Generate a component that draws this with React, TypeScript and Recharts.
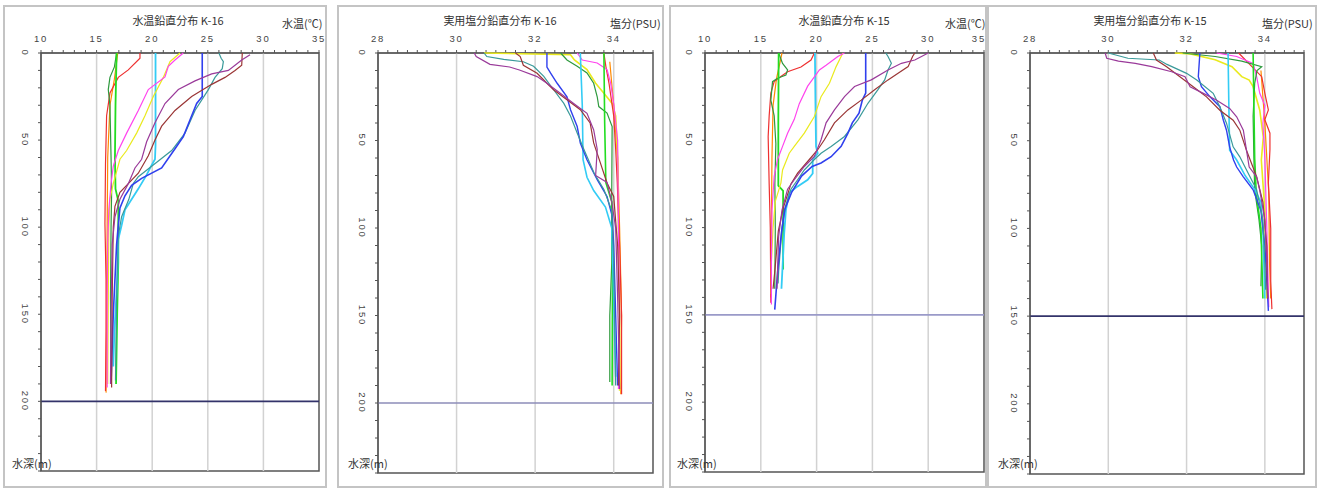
import { ReferenceArea, ReferenceLine, Scatter, ScatterChart, XAxis, YAxis } from "recharts";

type Pt = [number, number]; // [value, depth m]

// ---- K-16 water temperature (°C) ----
const k16TempRed: Pt[] = [[18.9, 0], [18.9, 3], [17.85, 9.7], [16.95, 14], [16.2, 23], [15.9, 36], [15.8, 64], [15.75, 98], [15.85, 130], [15.85, 160], [15.8, 194]];
const k16TempLime: Pt[] = [[16.8, 0], [16.7, 30], [16.65, 60], [16.7, 78], [16.95, 85], [16.95, 120], [16.85, 150], [16.75, 190]];
const k16TempDarkGreen: Pt[] = [[16.8, 0], [16.6, 8], [16.2, 14], [16.05, 21], [16.2, 30], [16.25, 45], [16.3, 60], [16.35, 80], [16.3, 100], [16.25, 140], [16.3, 190]];
const k16TempCyan: Pt[] = [[20.3, 0], [20.3, 30], [20.3, 53], [20.25, 61], [19.9, 65], [19.5, 70], [18.75, 78], [17.55, 90], [17.25, 99], [16.95, 107], [16.85, 131], [16.6, 160], [16.5, 180]];
const k16TempMagenta: Pt[] = [[22.8, 0], [22.05, 4], [21.45, 7.6], [21.15, 13.7], [19.65, 21], [18.75, 33], [17.7, 46], [16.95, 56], [16.5, 65], [16.3, 75], [16.1, 90], [16.0, 110], [15.95, 140], [15.95, 192]];
const k16TempYellow: Pt[] = [[22.5, 0], [21.6, 5], [21.0, 14], [20.1, 25], [19.35, 36], [18.6, 46], [17.7, 56], [17.1, 61], [16.5, 75], [16.2, 84], [16.1, 100], [16.05, 140], [16.0, 190]];
const k16TempBlue: Pt[] = [[24.5, 0], [24.5, 25], [24.0, 29], [23.55, 36], [22.8, 48], [22.05, 55], [20.85, 66], [19.05, 72], [18.15, 76], [17.55, 82], [17.1, 89], [16.95, 99], [16.8, 110], [16.5, 150], [16.3, 189]];
const k16TempTeal: Pt[] = [[26.0, 0], [26.2, 3], [26.4, 5], [26.3, 9], [25.65, 14], [25.05, 21], [23.85, 33], [22.95, 46], [21.75, 56], [19.95, 65], [18.75, 71], [18.3, 75], [17.9, 84], [17.25, 94], [16.95, 105], [16.8, 140], [16.7, 188]];
const k16TempPurple: Pt[] = [[28.8, 1], [28.05, 4], [26.85, 10], [25.35, 12], [23.85, 16], [22.35, 21], [21.15, 29], [20.25, 40], [19.5, 51], [19.05, 61], [18.45, 66], [17.85, 75], [17.1, 84], [16.65, 94], [16.4, 110], [16.3, 150], [16.25, 190]];
const k16TempMaroon: Pt[] = [[28.1, 0], [28.05, 7], [27.45, 10], [26.55, 14], [25.35, 18], [23.55, 25], [22.05, 33], [20.85, 42], [20.25, 50], [19.65, 59], [18.75, 69], [17.85, 75], [17.1, 80], [16.65, 88], [16.5, 100], [16.4, 140], [16.35, 192]];
const k16TempOrange: Pt[] = [[16.9, 0], [16.6, 15], [16.2, 30], [16.0, 60], [15.95, 100], [15.9, 150], [15.85, 195]];

// ---- K-16 practical salinity (PSU) ----
const k16SalPurple: Pt[] = [[30.45, 0], [30.5, 2], [30.85, 6.5], [31.35, 8], [31.6, 9.7], [32.05, 13.5], [32.3, 17.3], [32.64, 23], [32.98, 28.8], [33.32, 34.5], [33.49, 44], [33.58, 55], [33.54, 70], [33.83, 74], [33.95, 85], [34.05, 100], [34.1, 140], [34.15, 192]];
const k16SalTeal: Pt[] = [[30.7, 0], [30.77, 2], [31.2, 3.6], [31.7, 5], [31.96, 7.6], [32.22, 13.3], [32.47, 21], [32.73, 28.8], [32.9, 36], [33.07, 45.7], [33.24, 55], [33.5, 68.6], [33.75, 78], [33.95, 90], [34.0, 120], [34.05, 190]];
const k16SalMaroon: Pt[] = [[31.5, 0], [31.62, 2], [31.7, 7], [32.05, 11.6], [32.3, 17.3], [32.47, 21], [32.81, 26.7], [33.15, 32.4], [33.4, 40], [33.49, 51.4], [33.66, 62.8], [33.83, 74.3], [34.0, 82], [34.1, 110], [34.15, 150], [34.12, 190]];
const k16SalBlue: Pt[] = [[32.3, 0], [32.3, 8], [32.39, 11.4], [32.56, 17.3], [32.81, 25], [32.9, 32.4], [33.07, 42], [33.15, 51.4], [33.32, 61], [33.58, 72.4], [33.83, 82], [33.96, 93], [34.0, 110], [34.05, 150], [34.1, 190]];
const k16SalCyan: Pt[] = [[33.15, 0], [33.2, 30], [33.22, 61], [33.32, 71], [33.49, 78.6], [33.79, 88], [33.95, 100], [34.0, 140], [34.05, 185]];
const k16SalGreen: Pt[] = [[32.65, 0], [32.81, 4], [33.07, 7.6], [33.32, 11.4], [33.49, 17.3], [33.58, 25], [33.62, 30.6], [33.83, 34.3], [33.96, 42], [33.95, 80], [33.95, 120], [33.9, 150], [33.9, 188]];
const k16SalYellow: Pt[] = [[30.7, 0], [32.9, 1], [33.0, 4], [33.32, 9.5], [33.54, 17.3], [33.75, 23], [33.96, 28.8], [34.05, 36], [34.1, 60], [34.12, 100], [34.15, 150], [34.15, 193]];
const k16SalLime: Pt[] = [[33.75, 0], [33.77, 40], [33.8, 74], [33.95, 85], [33.97, 120], [33.96, 190]];
const k16SalMagenta: Pt[] = [[33.07, 0], [33.2, 4], [33.58, 5.7], [33.83, 9.5], [33.92, 17], [34.0, 29], [34.1, 50], [34.12, 100], [34.15, 150], [34.12, 192]];
const k16SalRed: Pt[] = [[33.75, 0], [33.8, 7.6], [33.88, 17.3], [34.0, 36], [34.05, 55], [34.09, 74], [34.15, 110], [34.2, 150], [34.2, 195]];
const k16SalOrange: Pt[] = [[33.9, 5], [34.0, 30], [34.1, 60], [34.15, 100], [34.2, 150], [34.18, 195]];

// ---- K-15 water temperature (°C) ----
const k15TempLime: Pt[] = [[16.6, 0], [16.57, 40], [16.57, 76], [17.0, 79], [17.0, 100], [17.0, 124]];
const k15TempDarkGreen: Pt[] = [[16.6, 0], [16.95, 6], [17.4, 9.7], [17.25, 12.6], [16.5, 14.5], [16.05, 16.4], [15.9, 27], [16.2, 36], [16.35, 52], [16.26, 75], [16.3, 100], [16.25, 135]];
const k15TempRed: Pt[] = [[19.8, 0], [19.5, 4], [18.6, 8], [17.4, 10.7], [16.8, 13.5], [16.2, 16.4], [15.9, 23], [15.75, 36], [15.66, 48], [15.75, 75], [15.85, 100], [15.9, 143]];
const k15TempCyan: Pt[] = [[19.85, 0], [19.9, 30], [19.95, 53.5], [20.1, 57.4], [19.65, 61], [19.65, 69], [19.2, 72.6], [18.3, 76.4], [17.55, 80], [17.25, 90], [17.1, 103], [16.85, 135]];
const k15TempMagenta: Pt[] = [[22.5, 0], [21.9, 2], [20.85, 7], [20.25, 9.7], [19.2, 19], [18.45, 29], [18.0, 38], [17.4, 46], [16.95, 53.5], [16.5, 61], [16.2, 70.6], [16.0, 90], [15.95, 120], [15.95, 144]];
const k15TempYellow: Pt[] = [[22.35, 0], [21.75, 7.8], [21.15, 17.3], [20.4, 25], [19.8, 36.4], [18.9, 45.9], [18.0, 53.5], [17.55, 57.4], [16.95, 67], [16.8, 74.5], [16.3, 85], [16.1, 100], [15.95, 120], [15.95, 138]];
const k15TempBlue: Pt[] = [[24.4, 0], [24.4, 23], [24.1, 27], [23.8, 34.5], [23.2, 40], [22.8, 46], [22.2, 53.5], [21.3, 59.4], [20.4, 63], [19.6, 65], [18.65, 70.5], [17.75, 80], [17.15, 89.5], [16.85, 103], [16.55, 122], [16.25, 147]];
const k15TempTeal: Pt[] = [[26.2, 0], [26.4, 2], [26.7, 5.9], [26.4, 9.7], [26.1, 15.4], [25.5, 21], [24.6, 28.8], [23.7, 38.3], [22.5, 47.8], [21.3, 53.5], [20.4, 57.4], [19.8, 61], [18.9, 67], [18.3, 72.6], [17.7, 78], [17.2, 88], [16.9, 100], [16.6, 125], [16.55, 132]];
const k15TempPurple: Pt[] = [[30.0, 0], [29.4, 2], [28.8, 4], [27.6, 5.9], [26.4, 9.7], [24.9, 15.4], [23.4, 19.2], [22.5, 25], [21.6, 32.6], [20.85, 40], [20.4, 49.7], [19.8, 59.2], [18.9, 65], [18.0, 72.6], [17.4, 78], [16.9, 90], [16.6, 105], [16.45, 135]];
const k15TempMaroon: Pt[] = [[28.8, 0], [28.6, 2], [28.2, 7.8], [27.3, 11.6], [26.4, 15.4], [25.2, 21], [24.0, 27], [22.8, 32.6], [21.6, 40], [20.7, 49.7], [20.1, 55.4], [19.35, 61], [18.3, 68.8], [17.7, 75], [17.0, 89], [16.57, 102], [16.27, 124], [16.1, 135]];
const k15TempOrange: Pt[] = [[16.9, 0], [16.4, 15], [16.1, 30], [16.0, 60], [15.95, 100], [15.9, 140]];

// ---- K-15 practical salinity (PSU) ----
const k15SalPurple: Pt[] = [[29.92, 0], [29.96, 3], [30.26, 4.6], [30.69, 5.9], [31.11, 7.8], [31.62, 10.7], [31.96, 13.5], [32.09, 19.2], [32.43, 23], [32.77, 26.9], [33.1, 31.6], [33.28, 36.4], [33.45, 44], [33.53, 55.4], [33.6, 65], [33.79, 70.6], [33.87, 78.3], [34.0, 95], [34.05, 120], [34.08, 140]];
const k15SalTeal: Pt[] = [[30.0, 0], [30.5, 3], [31.3, 4], [31.5, 6.5], [32.0, 11.6], [32.26, 15.4], [32.68, 23], [32.85, 30.6], [33.02, 40], [33.19, 53.5], [33.36, 59.2], [33.62, 70.6], [33.79, 78], [33.95, 95], [34.0, 120], [34.02, 135]];
const k15SalMaroon: Pt[] = [[31.15, 0], [31.23, 4], [31.49, 7.8], [31.83, 13.5], [32.17, 19.2], [32.51, 25], [32.85, 32.6], [33.19, 38.3], [33.36, 44], [33.53, 55.4], [33.66, 63], [33.79, 70.6], [33.95, 85], [34.05, 110], [34.07, 140]];
const k15SalBlue: Pt[] = [[32.34, 0], [32.3, 13.5], [32.38, 19.2], [32.6, 25], [32.85, 30.6], [32.94, 38.3], [33.02, 44], [33.1, 53.5], [33.2, 61], [33.28, 65], [33.45, 70.6], [33.7, 78], [33.9, 90], [34.0, 110], [34.05, 130], [34.09, 147]];
const k15SalCyan: Pt[] = [[33.06, 0], [33.08, 30], [33.1, 55.4], [33.28, 61], [33.5, 70], [33.75, 78], [33.9, 85], [33.95, 100], [34.0, 140]];
const k15SalGreen: Pt[] = [[31.9, 0], [32.73, 2], [33.41, 4.6], [33.92, 7.8], [33.8, 10], [33.74, 17.3], [33.7, 36], [33.72, 60], [33.74, 78], [33.85, 95], [33.92, 110], [33.9, 133]];
const k15SalLime: Pt[] = [[33.7, 0], [33.72, 30], [33.74, 60], [33.78, 80], [33.9, 100], [33.95, 140]];
const k15SalYellow: Pt[] = [[31.7, 0], [32.1, 0.5], [32.73, 3.8], [33.16, 7.8], [33.41, 13.5], [33.6, 15.4], [33.7, 19.2], [33.87, 32.6], [33.96, 48], [33.91, 61], [34.0, 90], [34.05, 140]];
const k15SalMagenta: Pt[] = [[32.77, 0], [33.28, 2], [33.7, 5.9], [33.79, 13.5], [33.87, 23], [34.0, 30], [33.95, 40], [34.0, 60], [34.05, 100], [34.1, 145]];
const k15SalRed: Pt[] = [[33.33, 0], [33.67, 7.8], [33.92, 13.5], [34.0, 23], [34.09, 32.4], [34.0, 38], [34.13, 45.7], [34.13, 55], [34.09, 74], [34.15, 100], [34.15, 130], [34.18, 146]];
const k15SalOrange: Pt[] = [[33.9, 10], [34.0, 40], [34.1, 80], [34.12, 120], [34.15, 140]];

// ---- axes ----
const tempLabels = [10, 15, 20, 25, 30, 35];
const salLabels = [28, 30, 32, 34];
const tempGrid = [15, 20, 25, 30];
const salGrid = [30, 32, 34];
const depthLabels = [0, 50, 100, 150, 200];
const depthTicks = Array.from({ length: 25 }, (_, i) => i * 10);
const tempMinor = Array.from({ length: 26 }, (_, i) => 10 + i);
const salMinor = Array.from({ length: 29 }, (_, i) => 28 + i * 0.25);

const C = {
  red: "#ee3030",
  lime: "#22dd22",
  darkGreen: "#2e9a3e",
  cyan: "#33ccf5",
  magenta: "#ff44ee",
  yellow: "#eaea1e",
  blue: "#3040ee",
  teal: "#3a9a9a",
  purple: "#9a3a9a",
  maroon: "#9a3535",
  orange: "#ff8a00",
};

type Series = { pts: Pt[]; color: string; w?: number };

const k16Temp: Series[] = [
  { pts: k16TempOrange, color: C.orange },
  { pts: k16TempRed, color: C.red },
  { pts: k16TempDarkGreen, color: C.darkGreen },
  { pts: k16TempLime, color: C.lime, w: 1.8 },
  { pts: k16TempCyan, color: C.cyan, w: 1.8 },
  { pts: k16TempYellow, color: C.yellow },
  { pts: k16TempMagenta, color: C.magenta },
  { pts: k16TempTeal, color: C.teal },
  { pts: k16TempBlue, color: C.blue, w: 1.6 },
  { pts: k16TempMaroon, color: C.maroon },
  { pts: k16TempPurple, color: C.purple },
];
const k16Sal: Series[] = [
  { pts: k16SalOrange, color: C.orange },
  { pts: k16SalYellow, color: C.yellow, w: 1.6 },
  { pts: k16SalRed, color: C.red },
  { pts: k16SalMagenta, color: C.magenta },
  { pts: k16SalGreen, color: C.darkGreen },
  { pts: k16SalLime, color: C.lime, w: 1.6 },
  { pts: k16SalCyan, color: C.cyan, w: 1.6 },
  { pts: k16SalBlue, color: C.blue, w: 1.4 },
  { pts: k16SalTeal, color: C.teal },
  { pts: k16SalMaroon, color: C.maroon },
  { pts: k16SalPurple, color: C.purple },
];
const k15Temp: Series[] = [
  { pts: k15TempOrange, color: C.orange },
  { pts: k15TempRed, color: C.red },
  { pts: k15TempDarkGreen, color: C.darkGreen },
  { pts: k15TempLime, color: C.lime, w: 1.8 },
  { pts: k15TempCyan, color: C.cyan, w: 1.8 },
  { pts: k15TempYellow, color: C.yellow },
  { pts: k15TempMagenta, color: C.magenta },
  { pts: k15TempTeal, color: C.teal },
  { pts: k15TempBlue, color: C.blue, w: 1.6 },
  { pts: k15TempMaroon, color: C.maroon },
  { pts: k15TempPurple, color: C.purple },
];
const k15Sal: Series[] = [
  { pts: k15SalOrange, color: C.orange },
  { pts: k15SalYellow, color: C.yellow, w: 1.6 },
  { pts: k15SalRed, color: C.red },
  { pts: k15SalMagenta, color: C.magenta },
  { pts: k15SalGreen, color: C.darkGreen },
  { pts: k15SalLime, color: C.lime, w: 1.6 },
  { pts: k15SalCyan, color: C.cyan, w: 1.6 },
  { pts: k15SalBlue, color: C.blue, w: 1.4 },
  { pts: k15SalTeal, color: C.teal },
  { pts: k15SalMaroon, color: C.maroon },
  { pts: k15SalPurple, color: C.purple },
];

const noDot = () => <g />;
const tickFont = "'Liberation Sans', Arial, sans-serif";
const jpFont = "'Noto Sans CJK JP', sans-serif";

interface PanelProps {
  left: number;
  width: number;
  plotLeft: number;
  plotRight: number;
  plotBottom: number;
  domain: [number, number];
  labels: number[];
  minor: number[];
  grid: number[];
  floor: number;
  floorColor: string;
  title: string;
  titleCenter: number;
  unit: string;
  unitLeft: number;
  depthLeft: number;
  series: Series[];
}

function Panel(p: PanelProps) {
  const H = 492;
  const TOP = 53;
  const renderX = (props: any) => {
    const v = props.payload.value;
    if (!p.labels.some((l) => Math.abs(l - v) < 1e-6)) return <g />;
    // keep a label that would run past the panel edge inside it
    const tight = props.x + 7 > p.width;
    return (
      <text x={tight ? p.width - 1 : props.x} y={38} textAnchor={tight ? "end" : "middle"} dominantBaseline="central" fontSize={9.5} letterSpacing={1.8} fill="#444" fontFamily={tickFont}>
        {v}
      </text>
    );
  };
  const renderY = (props: any) => {
    const v = props.payload.value;
    if (!depthLabels.includes(v)) return <g />;
    const lx = p.plotLeft - 16;
    return (
      <text x={lx} y={props.y} textAnchor="middle" dominantBaseline="central" fontSize={9.5} letterSpacing={1.8} fill="#444" fontFamily={tickFont} transform={`rotate(90 ${lx} ${props.y})`}>
        {v}
      </text>
    );
  };
  return (
    <div style={{ position: "absolute", left: p.left, top: 0, width: p.width, height: H, overflow: "hidden", background: "#fff" }}>
      <div style={{ position: "absolute", left: 0, top: 5, width: p.width - 4, height: 479, border: "2px solid #c4c4c4" }} />
      <ScatterChart width={p.width} height={H} margin={{ top: 0, left: 0, right: p.width - p.plotRight, bottom: H - p.plotBottom }}>
        <XAxis type="number" dataKey="v" orientation="top" domain={p.domain} ticks={p.minor} interval={0} height={TOP} tickSize={3} tick={renderX} axisLine={{ stroke: "#555" }} tickLine={{ stroke: "#555" }} />
        <YAxis type="number" dataKey="d" reversed domain={[0, 240]} ticks={depthTicks} interval={0} width={p.plotLeft} tickSize={3} tick={renderY} axisLine={{ stroke: "#555" }} tickLine={{ stroke: "#555" }} />
        {p.grid.map((g) => (
          <ReferenceLine key={g} x={g} stroke="#d2d2d2" strokeWidth={1.5} />
        ))}
        <ReferenceLine y={p.floor} stroke={p.floorColor} strokeWidth={1.6} />
        {p.series.map((s, i) => (
          <Scatter key={i} data={s.pts.map(([v, d]) => ({ v, d }))} line={{ stroke: s.color, strokeWidth: s.w ?? 1.2 }} shape={noDot} fill={s.color} isAnimationActive={false} />
        ))}
        <ReferenceArea x1={p.domain[0]} x2={p.domain[1]} y1={0} y2={240} fill="none" fillOpacity={0} stroke="#555" strokeWidth={1.5} />
      </ScatterChart>
      <div style={{ position: "absolute", left: p.titleCenter - 100, width: 200, top: 12, textAlign: "center", fontSize: 11, color: "#333", fontFamily: jpFont, whiteSpace: "nowrap" }}>{p.title}</div>
      <div style={{ position: "absolute", left: p.unitLeft, top: 15, fontSize: 11, color: "#333", fontFamily: jpFont, whiteSpace: "nowrap" }}>{p.unit}</div>
      <div style={{ position: "absolute", left: p.depthLeft, top: 455, fontSize: 11, color: "#333", fontFamily: jpFont, whiteSpace: "nowrap" }}>水深(m)</div>
    </div>
  );
}

export default function App() {
  return (
    <div style={{ position: "fixed", left: 0, top: 0, width: 1319, height: 492, background: "#fff", overflow: "hidden" }}>
      <Panel left={3} width={324} plotLeft={38} plotRight={316} plotBottom={471} domain={[10, 35]} labels={tempLabels} minor={tempMinor} grid={tempGrid} floor={200} floorColor="#33336a" title="水温鉛直分布 K-16" titleCenter={175} unit="水温(℃)" unitLeft={279} depthLeft={9} series={k16Temp} />
      <Panel left={337} width={327} plotLeft={41} plotRight={316} plotBottom={473} domain={[28, 35]} labels={salLabels} minor={salMinor} grid={salGrid} floor={200} floorColor="#8c8cb8" title="実用塩分鉛直分布 K-16" titleCenter={163} unit="塩分(PSU)" unitLeft={273} depthLeft={11} series={k16Sal} />
      <Panel left={669} width={318} plotLeft={36} plotRight={315} plotBottom={472} domain={[10, 35]} labels={tempLabels} minor={tempMinor} grid={tempGrid} floor={150} floorColor="#9a9ac8" title="水温鉛直分布 K-15" titleCenter={175} unit="水温(℃)" unitLeft={276} depthLeft={8} series={k15Temp} />
      <Panel left={987} width={330} plotLeft={43} plotRight={317} plotBottom={474} domain={[28, 35]} labels={salLabels} minor={salMinor} grid={salGrid} floor={150} floorColor="#33336a" title="実用塩分鉛直分布 K-15" titleCenter={163} unit="塩分(PSU)" unitLeft={275} depthLeft={11} series={k15Sal} />
    </div>
  );
}
